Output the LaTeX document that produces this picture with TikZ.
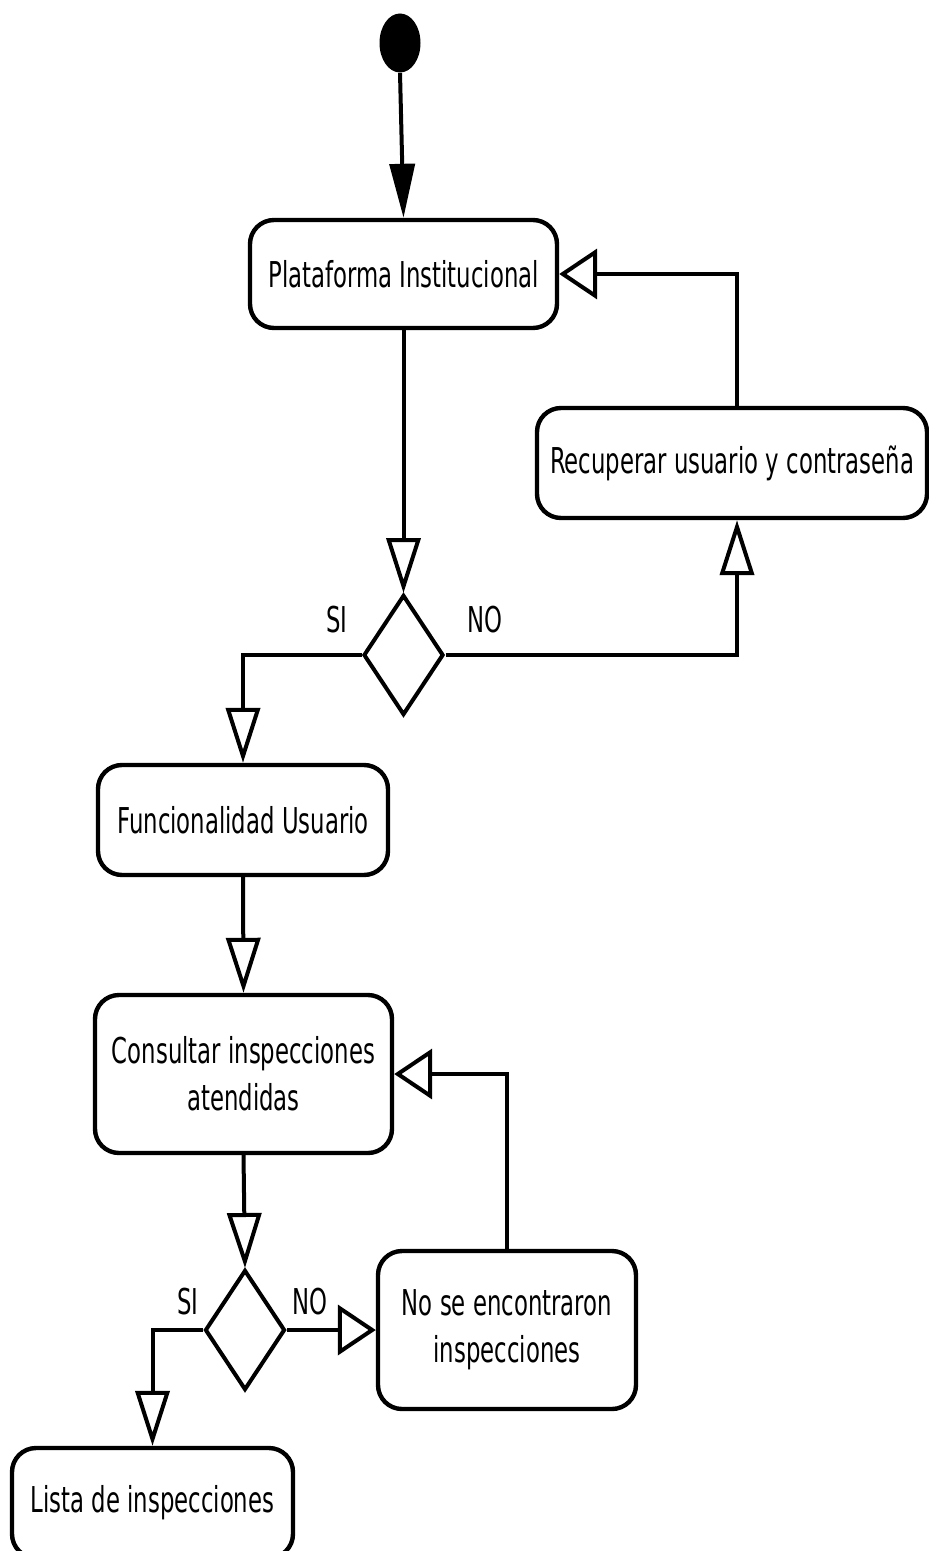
\documentclass[tikz,border=0pt]{standalone}
\usepackage{fontspec}
\setmainfont{DejaVu Sans}[FakeStretch=0.64]
\usepackage{tikz}
\usetikzlibrary{shapes.geometric}
\usetikzlibrary{positioning}
\usetikzlibrary{arrows.meta}

\tikzset{
  actividad/.style={draw,line width=2.2pt,rounded corners=12pt,align=center,
    inner sep=0pt,font=\fontsize{17.8}{23.5}\selectfont},
  decision/.style={draw,shape=diamond,line width=2pt,inner sep=0pt,
    minimum width=40pt,minimum height=60pt},
  inicio/.style={fill=black,shape=ellipse,inner sep=0pt,minimum width=20.5pt,minimum height=29.5pt},
  etiqueta/.style={font=\fontsize{17.8}{23.5}\selectfont,inner sep=0pt},
  flujo/.style={line width=2pt},
  bajada/.style={flujo,-{Triangle[open,length=27.5pt,width=17pt]}},
  lateral/.style={flujo,-{Triangle[open,length=19pt,width=25pt]}},
  entrada/.style={flujo,-{Triangle[length=27pt,width=12.5pt]}}
}

\begin{document}
\begin{tikzpicture}[x=0.5pt,y=-0.5pt]
\useasboundingbox[fill=white] (0,0) rectangle (928,1551);

\node (start) at (400,43) [inicio]{};
\node (plat) at (403.5,274) [actividad,minimum width=153.5pt,minimum height=54pt]{Plataforma Institucional};
\node (recup) at (732,463) [actividad,minimum width=195pt,minimum height=55pt]{Recuperar usuario y contraseña};
\node (dec1) at (403.5,655) [decision]{};
\node (func) at (243,820) [actividad,minimum width=145pt,minimum height=55pt]{Funcionalidad Usuario};
\node (consul) at (243.5,1074) [actividad,minimum width=148.5pt,minimum height=79pt]{Consultar inspecciones\\atendidas};
\node (dec2) at (245,1330) [decision]{};
\node (noenc) at (507,1330) [actividad,minimum width=129pt,minimum height=79pt]{No se encontraron\\inspecciones};
\node (lista) at (152.5,1503) [actividad,minimum width=140.5pt,minimum height=55pt]{Lista de inspecciones};

\node (si1) at (337,620) [etiqueta]{SI};
\node (no1) at (485,620) [etiqueta]{NO};
\node (si2) at (188,1302) [etiqueta]{SI};
\node (no2) at (310,1302) [etiqueta]{NO};

\draw[entrada] (start.south) -- (plat.north);
\draw[bajada] (plat.south) -- (dec1.north);
\draw[bajada] (dec1.west) -| (func.north);
\draw[bajada] (dec1.east) -| ([xshift=2.5pt]recup.south);
\draw[lateral] ([xshift=2.5pt]recup.north) |- (plat.east);
\draw[bajada] (func.south) -- (consul.north);
\draw[bajada] (consul.south) -- (dec2.north);
\draw[bajada] (dec2.west) -| (lista.north);
\draw[lateral] (dec2.east) -- (noenc.west);
\draw[lateral] (noenc.north) |- (consul.east);
\end{tikzpicture}
\end{document}
